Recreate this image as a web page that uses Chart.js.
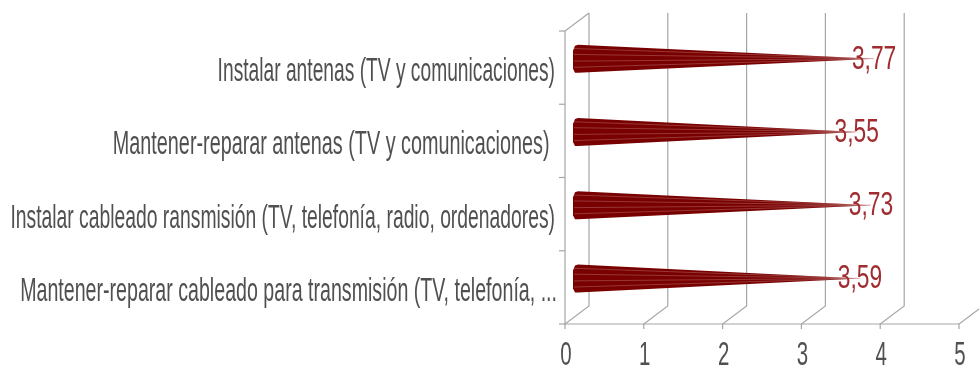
<!DOCTYPE html>
<html>
<head>
<meta charset="utf-8">
<script src="https://cdn.jsdelivr.net/npm/chart.js@4"></script>
<style>
  html, body { margin: 0; padding: 0; background: #fff; }
  #wrap { width: 979px; height: 367px; }
</style>
</head>
<body>
<div id="wrap"><canvas id="chart" width="979" height="367"></canvas></div>
<script>
const categories = [
  'Instalar antenas (TV y comunicaciones)',
  'Mantener-reparar antenas (TV y comunicaciones) ',
  'Instalar cableado ransmisión (TV, telefonía, radio, ordenadores)',
  'Mantener-reparar cableado para transmisión (TV, telefonía, ...'
];
const values = [3.77, 3.55, 3.73, 3.59];
const xTicks = [0, 1, 2, 3, 4, 5];

const DEPTH_X = 24;
const DEPTH_Y = 18;
const GRID = '#a6a6a6';
const TEXT = '#505050';
const NARROW = '"Liberation Sans Narrow", "Liberation Sans", sans-serif';
// the labels do not all squeeze alike, the original font has wide hyphens
const labelSqueeze = [0.565, 0.582, 0.568, 0.577];

// squeezed text, the original font is much narrower than anything installed
function squeezedText(ctx, text, x, y, size, squeeze, align, color) {
  ctx.save();
  ctx.translate(x, y);
  ctx.scale(squeeze, 1);
  ctx.font = size + 'px ' + NARROW;
  ctx.fillStyle = color;
  ctx.textAlign = align;
  ctx.textBaseline = 'middle';
  ctx.fillText(text, 0, 0);
  ctx.restore();
}

const frame3d = {
  id: 'frame3d',
  beforeDatasetsDraw(chart) {
    const ctx = chart.ctx;
    const xs = chart.scales.x;
    const ys = chart.scales.y;
    const top = chart.chartArea.top;
    const bottom = chart.chartArea.bottom;
    ctx.save();
    ctx.strokeStyle = GRID;
    ctx.lineWidth = 1.2;
    xTicks.forEach(t => {
      const px = xs.getPixelForValue(t);
      ctx.beginPath();
      ctx.moveTo(px, bottom + 5);
      ctx.lineTo(px, bottom);
      ctx.lineTo(px + DEPTH_X, bottom - DEPTH_Y);
      ctx.lineTo(px + DEPTH_X, top - DEPTH_Y);
      ctx.stroke();
    });
    // left wall and floor
    const x0 = xs.getPixelForValue(0);
    ctx.beginPath();
    ctx.moveTo(x0 + DEPTH_X, top - DEPTH_Y);
    ctx.lineTo(x0, top);
    ctx.lineTo(x0, bottom);
    ctx.lineTo(xs.getPixelForValue(5), bottom);
    ctx.stroke();
    // category ticks, they sit between the categories
    const step = (bottom - top) / categories.length;
    for (let i = 0; i <= categories.length; i++) {
      ctx.beginPath();
      ctx.moveTo(x0 - 6, top + step * i);
      ctx.lineTo(x0, top + step * i);
      ctx.stroke();
    }
    ctx.restore();

    xTicks.forEach(t => {
      squeezedText(ctx, String(t), xs.getPixelForValue(t) + 1, 356, 33, 0.62, 'center', TEXT);
    });
    categories.forEach((c, i) => {
      const right = i === categories.length - 1 ? 557 : 555;
      squeezedText(ctx, c, right, ys.getPixelForValue(i) + 4, 34, labelSqueeze[i], 'right', TEXT);
    });
  },
  afterDatasetsDraw(chart) {
    const ctx = chart.ctx;
    const x0 = chart.scales.x.getPixelForValue(0);
    chart.getDatasetMeta(0).data.forEach((bar, i) => {
      const baseX = x0 + DEPTH_X / 2;
      const tipX = bar.x + DEPTH_X / 2;
      const cy = bar.y - DEPTH_Y / 2;
      const r = bar.height / 2;
      ctx.save();
      // cone body with the flattened round base on the left
      ctx.beginPath();
      ctx.moveTo(tipX, cy);
      ctx.lineTo(baseX + 1, cy - r);
      ctx.lineTo(baseX - 2, cy - r + 1);
      ctx.lineTo(baseX - 4, cy - r + 6);
      ctx.lineTo(baseX - 4, cy + r - 4);
      ctx.lineTo(baseX - 2, cy + r);
      ctx.lineTo(baseX + 1, cy + r);
      ctx.closePath();
      ctx.fillStyle = '#780000';
      ctx.fill();
      // light facet lines running to the tip
      [-0.72, -0.3, 0.18, 0.62].forEach(f => {
        ctx.beginPath();
        ctx.moveTo(baseX - 3, cy + r * f);
        ctx.lineTo(tipX, cy);
        ctx.strokeStyle = 'rgba(225,170,170,0.4)';
        ctx.lineWidth = 0.8;
        ctx.stroke();
      });
      ctx.restore();
      squeezedText(ctx, values[i].toFixed(2).replace('.', ','), tipX, cy + 1, 33, 0.69, 'center', '#a02c30');
    });
  }
};

new Chart(document.getElementById('chart').getContext('2d'), {
  type: 'bar',
  data: {
    labels: categories,
    datasets: [{
      data: values,
      backgroundColor: 'rgba(0,0,0,0)',
      barThickness: 28
    }]
  },
  options: {
    indexAxis: 'y',
    responsive: false,
    animation: false,
    layout: { padding: { left: 565, right: 20, top: 31, bottom: 43 } },
    plugins: { legend: { display: false }, tooltip: { enabled: false } },
    scales: {
      x: { display: false, min: 0, max: 5 },
      y: { display: false }
    }
  },
  plugins: [frame3d]
});
</script>
</body>
</html>
